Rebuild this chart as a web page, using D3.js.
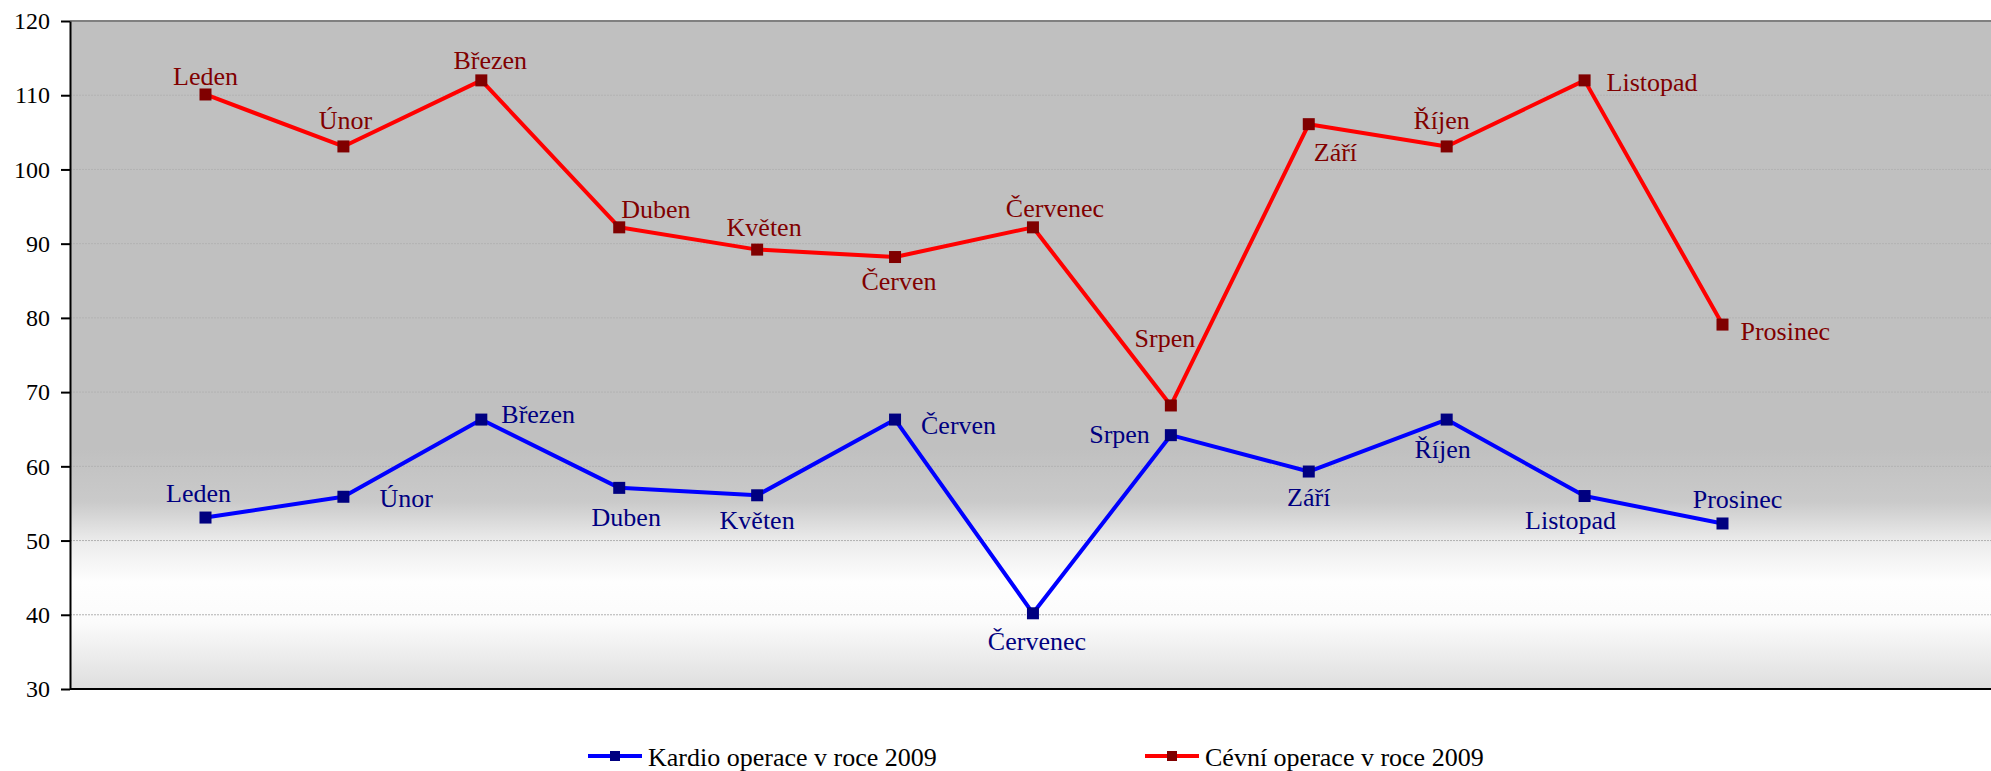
<!DOCTYPE html>
<html lang="cs">
<head>
<meta charset="utf-8">
<script src="https://cdn.jsdelivr.net/npm/d3@7"></script>
<style>
  html, body { margin: 0; padding: 0; background: #ffffff; }
  svg { display: block; }
  text { font-family: "Liberation Serif", "Times New Roman", serif; }
</style>
</head>
<body>
<svg id="chart" width="1991" height="771"></svg>
<script>
// Měsíce roku 2009
const months = ["Leden", "Únor", "Březen", "Duben", "Květen", "Červen",
                "Červenec", "Srpen", "Září", "Říjen", "Listopad", "Prosinec"];

// Počty operací po měsících
const kardio = [53.1, 55.9, 66.3, 57.1, 56.1, 66.3, 40.2, 64.2, 59.3, 66.3, 56.0, 52.3];
const cevni  = [110.1, 103.1, 112.0, 92.2, 89.2, 88.2, 92.2, 68.2, 106.1, 103.1, 112.0, 79.1];

const yTicks = [30, 40, 50, 60, 70, 80, 90, 100, 110, 120];

const seriesNames = ["Kardio operace v roce 2009", "Cévní operace v roce 2009"];

// Umístění popisků vůči bodu: [zarovnání, posun x, posun y]
const kardioLabelPlace = [
  ["middle", -7, -16], ["start", 36, 10], ["start", 20, 3], ["middle", 7, 38],
  ["middle", 0, 34], ["start", 26, 14], ["middle", 4, 37], ["end", -21, 8],
  ["middle", 0, 34], ["middle", -4, 38], ["middle", -14, 33], ["middle", 15, -15]
];
const cevniLabelPlace = [
  ["middle", 0, -9], ["middle", 2, -17], ["middle", 9, -11], ["start", 2, -9],
  ["middle", 7, -14], ["middle", 4, 33], ["middle", 22, -10], ["middle", -6, -58],
  ["start", 5, 37], ["middle", -5, -17], ["start", 22, 11], ["start", 18, 15]
];

const W = 1991, H = 771;
const plot = { left: 70, top: 21, right: W, bottom: 689 };

const svg = d3.select("#chart");

const x = d3.scalePoint().domain(months).range([205.5, 1722.5]);
const y = d3.scaleLinear().domain([30, 120]).range([plot.bottom, plot.top]);

// Pozadí plochy grafu s přechodem
const defs = svg.append("defs");
const grad = defs.append("linearGradient")
  .attr("id", "plotBg")
  .attr("x1", 0).attr("y1", 0).attr("x2", 0).attr("y2", 1);
[[0, "#c0c0c0"], [0.64, "#c0c0c0"], [0.72, "#cacaca"], [0.78, "#ececec"],
 [0.84, "#fefefe"], [0.9, "#fbfbfb"], [1, "#dedede"]]
  .forEach(([o, c]) => grad.append("stop").attr("offset", o).attr("stop-color", c));

svg.append("rect")
  .attr("x", plot.left).attr("y", plot.top)
  .attr("width", plot.right - plot.left).attr("height", plot.bottom - plot.top)
  .attr("fill", "url(#plotBg)");

// Mřížka
svg.append("g")
  .selectAll("line")
  .data(yTicks.filter(t => t > 30 && t < 120))
  .join("line")
  .attr("x1", plot.left).attr("x2", plot.right)
  .attr("y1", d => y(d)).attr("y2", d => y(d))
  .attr("stroke", "#b2b2b2")
  .attr("stroke-width", 1)
  .attr("stroke-dasharray", "2,1");

// Horní okraj plochy
svg.append("line")
  .attr("x1", plot.left).attr("x2", plot.right)
  .attr("y1", plot.top).attr("y2", plot.top)
  .attr("stroke", "#808080").attr("stroke-width", 2);

// Osa Y
const yAxis = d3.axisLeft(y).tickValues(yTicks).tickSize(9).tickPadding(11).tickSizeOuter(0);
const gy = svg.append("g")
  .attr("transform", `translate(${plot.left},0)`)
  .call(yAxis);
gy.attr("font-family", "'Liberation Serif', 'Times New Roman', serif");
gy.select(".domain").attr("stroke", "#000").attr("stroke-width", 2);
gy.selectAll(".tick line").attr("stroke", "#000").attr("stroke-width", 2);
gy.selectAll(".tick text")
  .attr("fill", "#000")
  .style("font-family", "'Liberation Serif', 'Times New Roman', serif")
  .style("font-size", "24px");

// Osa X
const xAxis = d3.axisBottom(x).tickSize(0).tickFormat("");
const gx = svg.append("g")
  .attr("transform", `translate(0,${plot.bottom})`)
  .call(xAxis);
gx.select(".domain").attr("d", `M${plot.left},0H${plot.right}`)
  .attr("stroke", "#000").attr("stroke-width", 2);

const line = d3.line().x((d, i) => x(months[i])).y(d => y(d));

function drawSeries(values, lineColor, markColor, places) {
  const g = svg.append("g");
  g.append("path")
    .datum(values)
    .attr("d", line)
    .attr("fill", "none")
    .attr("stroke", lineColor)
    .attr("stroke-width", 4)
    .attr("stroke-linejoin", "round");
  g.selectAll("rect")
    .data(values)
    .join("rect")
    .attr("x", (d, i) => x(months[i]) - 6)
    .attr("y", d => y(d) - 6)
    .attr("width", 12).attr("height", 12)
    .attr("fill", markColor);
  g.selectAll("text")
    .data(values)
    .join("text")
    .attr("x", (d, i) => x(months[i]) + places[i][1])
    .attr("y", (d, i) => y(d) + places[i][2])
    .attr("text-anchor", (d, i) => places[i][0])
    .attr("fill", markColor)
    .style("font-size", "26px")
    .text((d, i) => months[i]);
}

drawSeries(cevni, "#ff0000", "#800000", cevniLabelPlace);
drawSeries(kardio, "#0000ff", "#000080", kardioLabelPlace);

// Legenda
const legendItems = [
  { name: seriesNames[0], line: "#0000ff", mark: "#000080", x: 588 },
  { name: seriesNames[1], line: "#ff0000", mark: "#800000", x: 1145 }
];
const lg = svg.append("g").selectAll("g").data(legendItems).join("g")
  .attr("transform", d => `translate(${d.x},756)`);
lg.append("line")
  .attr("x1", 0).attr("x2", 54).attr("y1", 0).attr("y2", 0)
  .attr("stroke", d => d.line).attr("stroke-width", 4);
lg.append("rect")
  .attr("x", 22).attr("y", -5).attr("width", 10).attr("height", 10)
  .attr("fill", d => d.mark);
lg.append("text")
  .attr("x", 60).attr("y", 10)
  .attr("fill", "#000")
  .style("font-size", "26px")
  .text(d => d.name);
</script>
</body>
</html>
